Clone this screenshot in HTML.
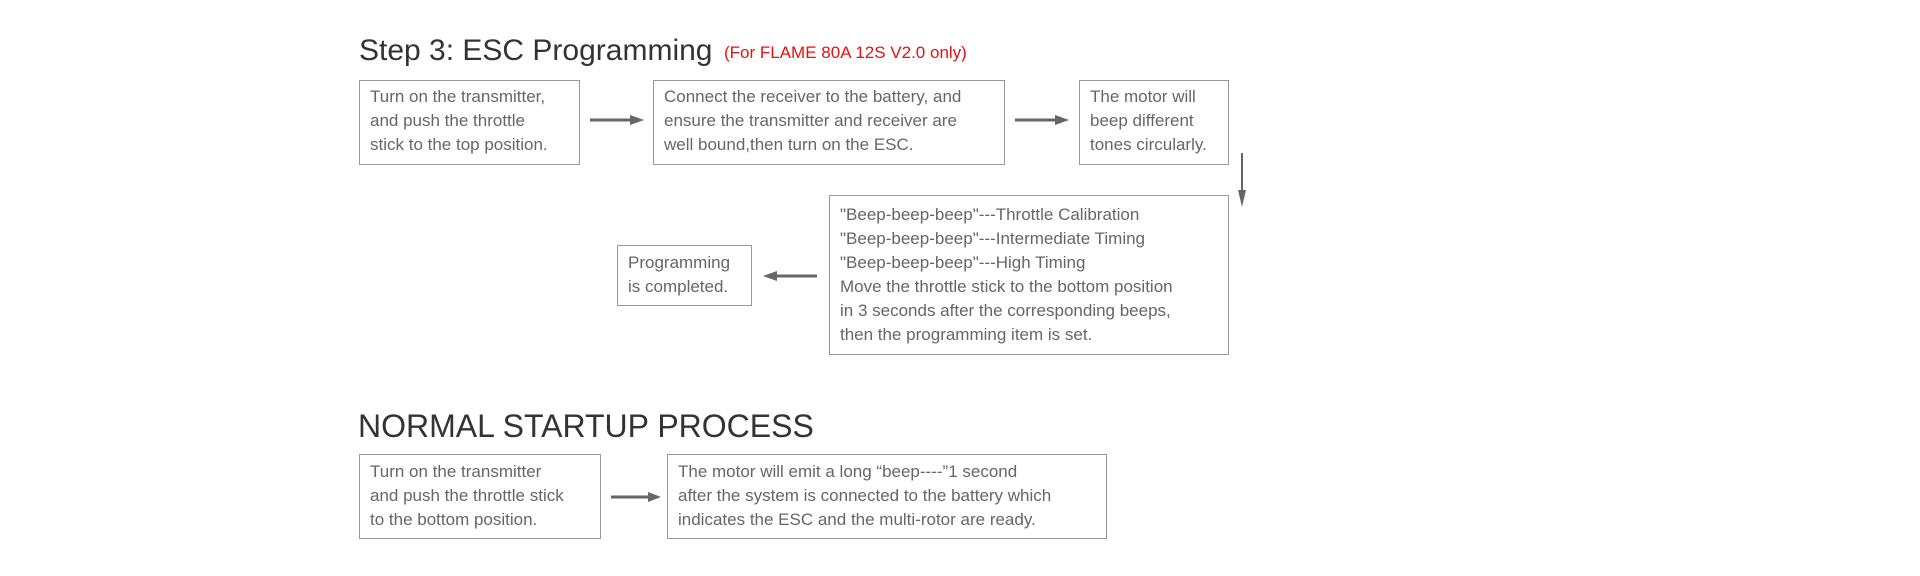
<!DOCTYPE html>
<html><head><meta charset="utf-8"><style>
body{margin:0;width:1920px;height:576px;background:#fff;position:relative;overflow:hidden;font-family:"Liberation Sans",sans-serif;}
.t{position:absolute;white-space:nowrap;color:#333;}
.b{position:absolute;border:1px solid #999;box-sizing:border-box;color:#666;font-size:17px;line-height:24px;padding:8px 0 0 10px;white-space:nowrap;}
svg{position:absolute;left:0;top:0;}
</style></head><body>
<div class="t" style="left:359px;top:34px;font-size:30px;">Step 3: ESC Programming</div>
<div class="t" style="left:724px;top:43px;font-size:17px;color:#e81010;">(For FLAME 80A 12S V2.0 only)</div>

<div class="b" style="left:359px;top:80px;width:221px;height:85px;padding-top:4px;">Turn on the transmitter,<br>and push the throttle<br>stick to the top position.</div>
<div class="b" style="left:653px;top:80px;width:352px;height:85px;padding-top:4px;">Connect the receiver to the battery, and<br>ensure the transmitter and receiver are<br>well bound,then turn on the ESC.</div>
<div class="b" style="left:1079px;top:80px;width:150px;height:85px;padding-top:4px;">The motor will<br>beep different<br>tones circularly.</div>
<div class="b" style="left:829px;top:195px;width:400px;height:160px;padding-top:7px;">"Beep-beep-beep"---Throttle Calibration<br>"Beep-beep-beep"---Intermediate Timing<br>"Beep-beep-beep"---High Timing<br>Move the throttle stick to the bottom position<br>in 3 seconds after the corresponding beeps,<br>then the programming item is set.</div>
<div class="b" style="left:617px;top:245px;width:135px;height:61px;padding-top:5px;">Programming<br>is completed.</div>

<div class="t" style="left:358px;top:408px;font-size:32px;">NORMAL STARTUP PROCESS</div>
<div class="b" style="left:359px;top:454px;width:242px;height:85px;padding-top:5px;">Turn on the transmitter<br>and push the throttle stick<br>to the bottom position.</div>
<div class="b" style="left:667px;top:454px;width:440px;height:85px;padding-top:5px;">The motor will emit a long “beep----”1 second<br>after the system is connected to the battery which<br>indicates the ESC and the multi-rotor are ready.</div>

<svg width="1920" height="576">
<g fill="#666" stroke="#666">
<line x1="590" y1="120" x2="632" y2="120" stroke-width="3"/><polygon points="630,115 644,120 630,125" stroke="none"/>
<line x1="1015" y1="120" x2="1057" y2="120" stroke-width="3"/><polygon points="1055,115 1069,120 1055,125" stroke="none"/>
<line x1="1242" y1="153" x2="1242" y2="194" stroke-width="2"/><polygon points="1238,190 1242,207 1246,190" stroke="none"/>
<line x1="775" y1="276" x2="817" y2="276" stroke-width="3"/><polygon points="777,271 763,276 777,281" stroke="none"/>
<line x1="611" y1="497" x2="650" y2="497" stroke-width="3"/><polygon points="648,492 661,497 648,502" stroke="none"/>
</g></svg>
</body></html>
